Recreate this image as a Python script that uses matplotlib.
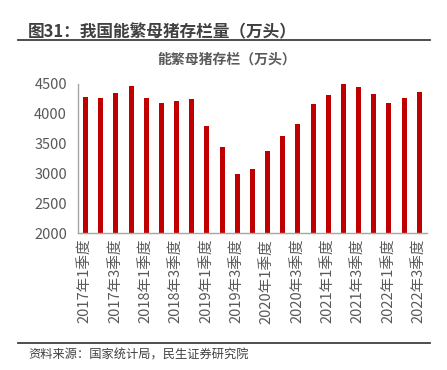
import matplotlib
matplotlib.use("Agg")
import matplotlib.pyplot as plt
from matplotlib.lines import Line2D

plt.rcParams['font.family'] = ['Noto Sans CJK SC', 'DejaVu Sans']

quarters = ["2017年1季度", "2017年2季度", "2017年3季度", "2017年4季度",
            "2018年1季度", "2018年2季度", "2018年3季度", "2018年4季度",
            "2019年1季度", "2019年2季度", "2019年3季度", "2019年4季度",
            "2020年1季度", "2020年2季度", "2020年3季度", "2020年4季度",
            "2021年1季度", "2021年2季度", "2021年3季度", "2021年4季度",
            "2022年1季度", "2022年2季度", "2022年3季度"]
sows = [4288, 4261, 4344, 4472, 4261, 4182, 4222, 4250, 3794, 3438,
        2995, 3077, 3383, 3630, 3826, 4161, 4316, 4500, 4455, 4328,
        4182, 4271, 4361]
yticks = [2000, 2500, 3000, 3500, 4000, 4500]

fig = plt.figure(figsize=(4.47, 3.70), dpi=100)
ax = fig.add_axes([0.1745, 0.3695, 0.7805, 0.4035])

x = list(range(len(quarters)))
ax.bar(x, sows, width=0.33, color="#C00000", zorder=2)
ax.set_ylim(2000, 4500)
ax.set_xlim(-0.5, len(quarters) - 0.5)
ax.set_yticks(yticks)
ax.set_yticklabels([str(v) for v in yticks], fontsize=10.5, color="#595959")
ax.set_xticks(x[::2])
ax.set_xticklabels(quarters[::2], rotation=90, fontsize=10.5, color="#595959")
ax.tick_params(length=0, pad=4)
ax.tick_params(axis='y', pad=8)
for s in ["top", "right"]:
    ax.spines[s].set_visible(False)
for s in ["left", "bottom"]:
    ax.spines[s].set_color("#A6A6A6")
    ax.spines[s].set_linewidth(1.0)

fig.text(0.063, 0.9135, "图31：我国能繁母猪存栏量（万头）", fontsize=12, fontweight='bold',
         color="#404040", va='center', ha='left')
fig.add_artist(Line2D([0.040, 0.962], [0.892, 0.892], color="#404040", lw=1.3,
                      transform=fig.transFigure))
fig.text(0.508, 0.838, "能繁母猪存栏（万头）", fontsize=10, fontweight='bold',
         color="#595959", va='center', ha='center')
fig.add_artist(Line2D([0.040, 0.962], [0.0738, 0.0738], color="#404040", lw=1.3,
                      transform=fig.transFigure))
fig.text(0.063, 0.0405, "资料来源：国家统计局，民生证券研究院", fontsize=8.8,
         color="#404040", va='center', ha='left')

fig.savefig("out.png", dpi=100)
